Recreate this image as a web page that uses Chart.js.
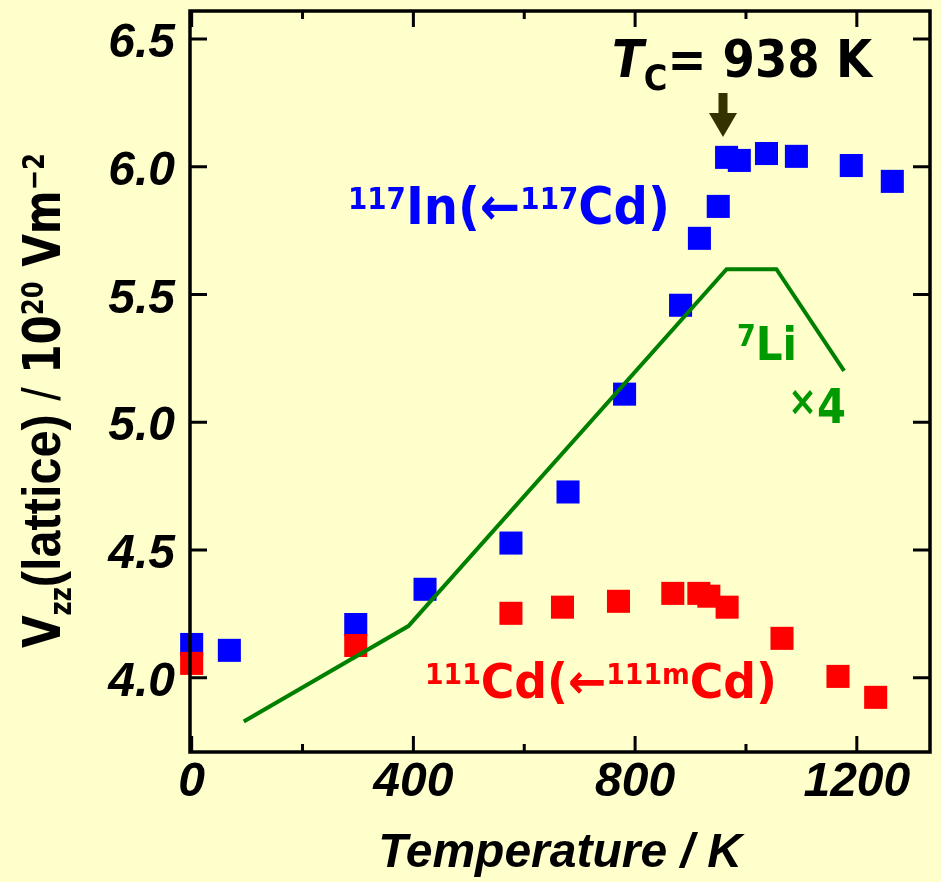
<!DOCTYPE html>
<html>
<head>
<meta charset="utf-8">
<script src="https://cdn.jsdelivr.net/npm/chart.js@4.4.1/dist/chart.umd.min.js"></script>
<style>
  body { margin: 0; background: #ffffcc; }
  #wrap { width: 941px; height: 882px; }
</style>
</head>
<body>
<div id="wrap"><canvas id="vzzChart"></canvas></div>
<script>
// 117In (<- 117Cd) probe, blue squares
var inTemp = [0, 68, 296, 421, 576, 679, 781, 882, 916, 950, 965, 988, 1037, 1091, 1190, 1264];
var inVzz = [4.13, 4.107, 4.208, 4.346, 4.527, 4.727, 5.11, 5.458, 5.72, 5.845, 6.037, 6.025, 6.052, 6.041, 6.005, 5.943];

// 111Cd (<- 111mCd) probe, red squares
var cdTemp = [0, 296, 576, 669, 770, 868, 915, 933, 966, 1065, 1166, 1234];
var cdVzz = [4.056, 4.126, 4.252, 4.276, 4.299, 4.33, 4.33, 4.319, 4.276, 4.154, 4.005, 3.923];

// 7Li (x4) guide line, green
var liTemp = [94, 391, 965, 1055, 1177];
var liVzz = [3.828, 4.202, 5.599, 5.599, 5.201];

// ticks
var xTicks = [0, 200, 400, 600, 800, 1000, 1200];
var xLabels = [0, 400, 800, 1200];
var yTicks = [4.0, 4.5, 5.0, 5.5, 6.0, 6.5];

var SANS = "'DejaVu Sans Condensed', 'DejaVu Sans', sans-serif";
var POP = "'Liberation Sans Narrow', 'Liberation Sans', sans-serif";

function toPoints(xs, ys) {
    return xs.map((x, i) => ({ x: x, y: ys[i] }));
}

// draw a row of text pieces (text, font, baseline shift), squeezed to a width
function drawRuns(ctx, x, y, runs, fit, color) {
    var total = 0;
    runs.forEach(r => {
        ctx.font = r[1];
        r.w = ctx.measureText(r[0]).width;
        total += r.w;
    });
    var sx = fit ? fit / total : 1;
    ctx.save();
    ctx.translate(x, y);
    ctx.scale(sx, 1);
    ctx.fillStyle = color;
    ctx.textBaseline = 'alphabetic';
    ctx.textAlign = 'left';
    var cx = 0;
    runs.forEach(r => {
        ctx.font = r[1];
        ctx.fillText(r[0], cx, r[2] || 0);
        cx += r.w;
    });
    ctx.restore();
}

var decor = {
    id: 'decor',
    beforeDraw(chart) {
        var ctx = chart.ctx;
        ctx.save();
        ctx.fillStyle = '#ffffcc';
        ctx.fillRect(0, 0, chart.width, chart.height);
        ctx.restore();
    },
    afterDraw(chart) {
        var ctx = chart.ctx;
        var a = chart.chartArea;
        var xs = chart.scales.x, ys = chart.scales.y;
        ctx.save();

        // frame
        ctx.strokeStyle = '#000';
        ctx.lineWidth = 3.5;
        ctx.strokeRect(a.left, a.top, a.right - a.left, a.bottom - a.top);

        // inward tick marks
        ctx.lineWidth = 3;
        ctx.beginPath();
        xTicks.forEach(v => {
            var px = xs.getPixelForValue(v);
            var len = xLabels.indexOf(v) >= 0 ? 16 : 8;
            ctx.moveTo(px, a.bottom);
            ctx.lineTo(px, a.bottom - len);
            ctx.moveTo(px, a.top);
            ctx.lineTo(px, a.top + len);
        });
        yTicks.forEach(v => {
            var py = ys.getPixelForValue(v);
            ctx.moveTo(a.left, py);
            ctx.lineTo(a.left + 17, py);
            ctx.moveTo(a.right, py);
            ctx.lineTo(a.right - 17, py);
        });
        ctx.stroke();

        // Tc arrow
        ctx.fillStyle = '#333300';
        ctx.fillRect(718.5, 93, 9, 21);
        ctx.beginPath();
        ctx.moveTo(709, 113);
        ctx.lineTo(737, 113);
        ctx.lineTo(723, 137);
        ctx.closePath();
        ctx.fill();
        ctx.restore();

        // annotations
        drawRuns(ctx, 612, 77, [
            ['T', 'italic bold 52px ' + SANS, 0],
            ['C', 'bold 36px ' + SANS, 13],
            ['= 938 K', 'bold 52px ' + SANS, 0]
        ], 260, '#000');

        drawRuns(ctx, 348, 224, [
            ['117', 'bold 30px ' + SANS, -15],
            ['In(', 'bold 52px ' + SANS, 0],
            ['\u2190', 'bold 52px ' + SANS, 0],
            ['117', 'bold 30px ' + SANS, -15],
            ['Cd)', 'bold 52px ' + SANS, 0]
        ], 322, '#0000ff');

        drawRuns(ctx, 425, 698, [
            ['111', 'bold 28px ' + SANS, -14],
            ['Cd(', 'bold 48px ' + SANS, 0],
            ['\u2190', 'bold 48px ' + SANS, 0],
            ['111m', 'bold 28px ' + SANS, -14],
            ['Cd)', 'bold 48px ' + SANS, 0]
        ], 352, '#ff0000');

        drawRuns(ctx, 737, 360, [
            ['7', 'bold 30px ' + SANS, -14],
            ['Li', 'bold 47px ' + SANS, 0]
        ], 60, '#009900');

        drawRuns(ctx, 788, 423, [
            ['\u00d7', 'bold 40px ' + SANS, -8],
            ['4', 'bold 48px ' + SANS, 0]
        ], 58, '#009900');

        // y axis title, rotated
        ctx.save();
        ctx.translate(60, 648);
        ctx.rotate(-Math.PI / 2);
        drawRuns(ctx, 0, 0, [
            ['V', 'bold 52px ' + SANS, 0],
            ['zz', 'bold 30px ' + SANS, 11],
            ['(lattice)', 'bold 54px ' + POP, 0],
            [' / ', '54px ' + POP, 0],
            ['10', 'bold 52px ' + SANS, 0],
            ['20', 'bold 30px ' + SANS, -17],
            [' Vm', 'bold 52px ' + SANS, 0],
            ['\u22122', 'bold 30px ' + SANS, -16]
        ], 495, '#000');
        ctx.restore();
    }
};

var tickFont = { family: POP, size: 48, weight: 'bold', style: 'italic', lineHeight: 1 };

var ctx = document.getElementById('vzzChart').getContext('2d');
var VzzChart = new Chart(ctx, {
    type: 'scatter',
    data: {
        datasets: [{
            label: '7Li x4',
            data: toPoints(liTemp, liVzz),
            showLine: true,
            borderColor: '#008000',
            borderWidth: 4,
            pointRadius: 0,
            fill: false,
            tension: 0,
            clip: false,
            order: 0
        }, {
            label: '111Cd',
            data: toPoints(cdTemp, cdVzz),
            backgroundColor: '#ff0000',
            pointStyle: 'rect',
            pointRadius: 16.3,
            pointHoverRadius: 16.3,
            borderWidth: 0,
            clip: false,
            order: 1
        }, {
            label: '117In',
            data: toPoints(inTemp, inVzz),
            backgroundColor: '#0000ff',
            pointStyle: 'rect',
            pointRadius: 16.3,
            pointHoverRadius: 16.3,
            borderWidth: 0,
            clip: false,
            order: 2
        }]
    },
    options: {
        responsive: true,
        maintainAspectRatio: false,
        animation: false,
        layout: { autoPadding: false, padding: { top: 11, right: 11, left: 0, bottom: 0 } },
        plugins: {
            legend: { display: false },
            tooltip: { enabled: false }
        },
        scales: {
            x: {
                type: 'linear',
                min: -3,
                max: 1332,
                grid: { display: false, drawTicks: false },
                border: { display: false },
                ticks: {
                    stepSize: 200,
                    includeBounds: false,
                    autoSkip: false,
                    maxRotation: 0,
                    padding: 7,
                    color: '#000',
                    font: tickFont,
                    callback: function (v) {
                        return xLabels.indexOf(v) >= 0 ? String(v) : '';
                    }
                },
                title: {
                    display: true,
                    text: 'Temperature / K',
                    color: '#000',
                    font: { family: POP, size: 48, weight: 'bold', style: 'italic', lineHeight: 1 },
                    padding: { top: 0, bottom: 4 }
                },
                afterFit: function (scale) {
                    scale.height = 130;
                    scale.paddingLeft = 0;
                    scale.paddingRight = 0;
                }
            },
            y: {
                min: 3.709,
                max: 6.61,
                grid: { display: false, drawTicks: false },
                border: { display: false },
                ticks: {
                    stepSize: 0.5,
                    includeBounds: false,
                    autoSkip: false,
                    padding: 15,
                    labelOffset: 5,
                    color: '#000',
                    font: tickFont,
                    callback: function (v) {
                        var hit = yTicks.some(t => Math.abs(t - v) < 1e-6);
                        return hit ? v.toFixed(1) : '';
                    }
                },
                afterFit: function (scale) {
                    scale.width = 190;
                    scale.paddingTop = 0;
                    scale.paddingBottom = 0;
                }
            }
        }
    },
    plugins: [decor]
});
</script>
</body>
</html>
